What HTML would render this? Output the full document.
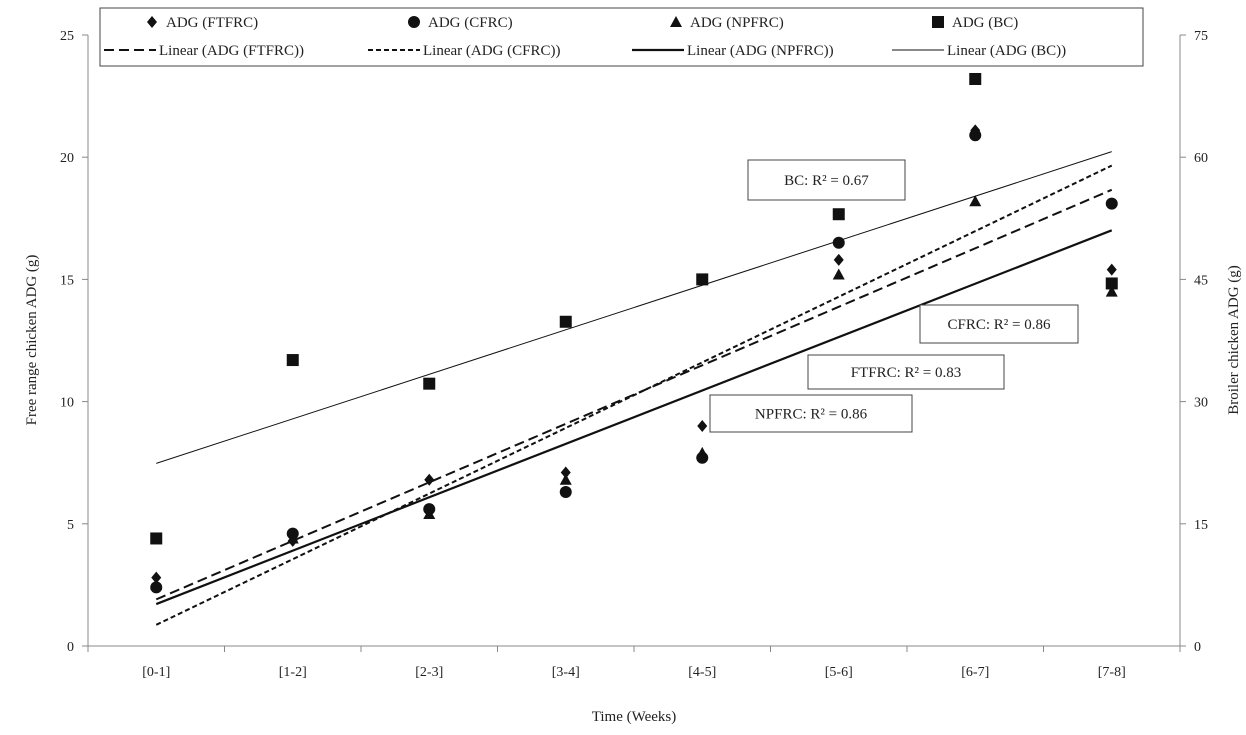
<!DOCTYPE html>
<html><head><meta charset="utf-8"><style>
body{margin:0;background:#fff;}
svg{display:block;font-family:"Liberation Serif",serif;}
</style></head><body>
<svg id="chart" width="1246" height="735"></svg>
<script>
const categories=["[0-1]","[1-2]","[2-3]","[3-4]","[4-5]","[5-6]","[6-7]","[7-8]"];
const ftfrc=[2.8,4.3,6.8,7.1,9.0,15.8,21.1,15.4];
const cfrc=[2.4,4.6,5.6,6.3,7.7,16.5,20.9,18.1];
const npfrc=[2.5,4.4,5.4,6.8,7.9,15.2,18.2,14.5];
const bc=[13.2,35.1,32.2,39.8,45.0,53.0,69.6,44.5];
const leftTicks=[0,5,10,15,20,25];
const rightTicks=[0,15,30,45,60,75];
const r2Labels=["BC: R² = 0.67","CFRC: R² = 0.86","FTFRC: R² = 0.83","NPFRC: R² = 0.86"];

const NS="http://www.w3.org/2000/svg";
const svg=document.getElementById('chart');
const L=88,R=1180,T=35,B=646;
const cw=(R-L)/categories.length;
const xs=i=>L+cw*(i+0.5);
const yl=v=>B-(B-T)*v/25;
const yr=v=>B-(B-T)*v/75;
function el(tag,attrs,parent){const e=document.createElementNS(NS,tag);for(const k in attrs)e.setAttribute(k,attrs[k]);(parent||svg).appendChild(e);return e;}
function txt(x,y,s,attrs){const t=el('text',Object.assign({x:x,y:y,'font-size':15,fill:'#222'},attrs||{}));t.textContent=s;return t;}

// axes
const ax=el('g',{stroke:'#888','stroke-width':1});


el('line',{x1:L,y1:T,x2:L,y2:B},ax);
el('line',{x1:R,y1:T,x2:R,y2:B},ax);
el('line',{x1:L,y1:B,x2:R,y2:B},ax);
leftTicks.forEach(v=>{el('line',{x1:L-6,y1:yl(v),x2:L,y2:yl(v)},ax);
 const t=txt(L-14,yl(v)+5,String(v),{'text-anchor':'end','font-size':14});
 
 });
rightTicks.forEach(v=>{el('line',{x1:R,y1:yr(v),x2:R+6,y2:yr(v)},ax);
 const t=txt(R+14,yr(v)+5,String(v),{'font-size':14});
 
 });
for(let i=0;i<=categories.length;i++)el('line',{x1:L+cw*i,y1:B,x2:L+cw*i,y2:B+6},ax);
categories.forEach((c,i)=>{const t=txt(xs(i),B+30,c,{'text-anchor':'middle','font-size':14});
 
 });
let t=txt(634,721,"Time (Weeks)",{'text-anchor':'middle'});

t=txt(0,0,"Free range chicken ADG (g)",{'text-anchor':'middle',transform:'translate(36,340) rotate(-90)'});

t=txt(0,0,"Broiler chicken ADG (g)",{'text-anchor':'middle',transform:'translate(1238,340) rotate(-90)'});


// trendlines
function fit(vals){const n=vals.length;let sx=0,sy=0,sxy=0,sxx=0;vals.forEach((v,i)=>{const x=i+1;sx+=x;sy+=v;sxy+=x*v;sxx+=x*x;});
 const m=(n*sxy-sx*sy)/(n*sxx-sx*sx);return {m:m,b:(sy-m*sx)/n};}
function trend(vals,yf,attrs,name){const f=fit(vals);
 const l=el('line',Object.assign({x1:xs(0),y1:yf(f.m*1+f.b),x2:xs(7),y2:yf(f.m*8+f.b),stroke:'#111'},attrs));
 }
trend(bc,yr,{'stroke-width':1},'trendline-bc');
trend(ftfrc,yl,{'stroke-width':2,'stroke-dasharray':'10,5'},'trendline-ftfrc');
trend(cfrc,yl,{'stroke-width':2,'stroke-dasharray':'5,3'},'trendline-cfrc');
trend(npfrc,yl,{'stroke-width':2.2},'trendline-npfrc');

// markers
function diamond(x,y,g){el('polygon',{points:`${x},${y-6} ${x+5},${y} ${x},${y+6} ${x-5},${y}`,fill:'#111'},g);}
function circle(x,y,g){el('circle',{cx:x,cy:y,r:6,fill:'#111'},g);}
function tri(x,y,g){el('polygon',{points:`${x},${y-6} ${x+6},${y+5} ${x-6},${y+5}`,fill:'#111'},g);}
function square(x,y,g){el('rect',{x:x-6,y:y-6,width:12,height:12,fill:'#111'},g);}
function series(vals,yf,fn,name){const g=el('g',{});
 
 vals.forEach((v,i)=>fn(xs(i),yf(v),g));}
series(bc,yr,square,'series-bc');
series(npfrc,yl,tri,'series-npfrc');
series(cfrc,yl,circle,'series-cfrc');
series(ftfrc,yl,diamond,'series-ftfrc');

// r2 boxes
const boxes=[[748,160,157,40],[920,305,158,38],[808,355,196,34],[710,395,202,37]];
r2Labels.forEach((s,i)=>{const b=boxes[i];const g=el('g',{});
 
 el('rect',{x:b[0],y:b[1],width:b[2],height:b[3],fill:'#fff',stroke:'#444'},g);
 const tt=el('text',{x:b[0]+b[2]/2,y:b[1]+b[3]/2+5,'text-anchor':'middle','font-size':15,fill:'#222'},g);tt.textContent=s;});

// legend
const lg=el('g',{});

el('rect',{x:100,y:8,width:1043,height:58,fill:'#fff',stroke:'#444'},lg);
const lx=[148,410,672,934];
const mk=[diamond,circle,tri,square];
const mn=["ADG (FTFRC)","ADG (CFRC)","ADG (NPFRC)","ADG (BC)"];
mn.forEach((s,i)=>{mk[i](lx[i]+4,22,lg);const tt=el('text',{x:lx[i]+18,y:27,'font-size':15,fill:'#222'},lg);tt.textContent=s;});
const dash=['10,5','5,3',null,null];const sw=[2,2,2.2,1];
const ln=["Linear (ADG (FTFRC))","Linear (ADG (CFRC))","Linear (ADG (NPFRC))","Linear (ADG (BC))"];
const lx2=[104,368,632,892];
ln.forEach((s,i)=>{const a={x1:lx2[i],y1:50,x2:lx2[i]+52,y2:50,stroke:'#111','stroke-width':sw[i]};if(dash[i])a['stroke-dasharray']=dash[i];el('line',a,lg);
 const tt=el('text',{x:lx2[i]+55,y:55,'font-size':15,fill:'#222'},lg);tt.textContent=s;});
</script>
</body></html>
